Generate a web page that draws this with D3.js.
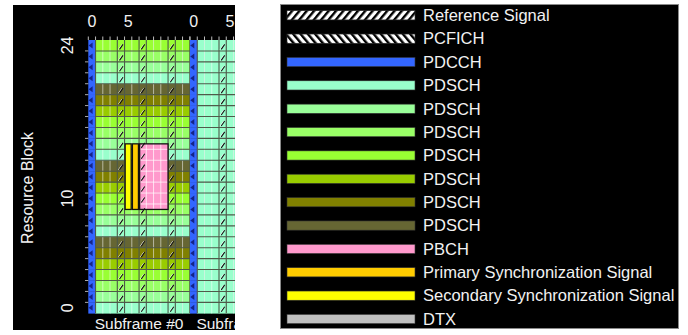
<!DOCTYPE html>
<html><head><meta charset="utf-8">
<script src="https://cdn.jsdelivr.net/npm/d3@7"></script>
<style>
html,body{margin:0;padding:0;background:#fff;}
svg{display:block;}
text{font-family:"Liberation Sans",Arial,sans-serif;fill:#f2f2f2;}
</style>
</head><body><svg id="c" width="688" height="335"></svg>
<script>
// ---------- data ----------
const legendLabels = ["Reference Signal","PCFICH","PDCCH","PDSCH","PDSCH","PDSCH","PDSCH","PDSCH","PDSCH","PDSCH","PBCH","Primary Synchronization Signal","Secondary Synchronization Signal","DTX"];
const legendColors = ["url(#hatchRS)","url(#hatchPCFICH)","#3366ff","#99ffcc","#99ff99","#99ff66","#99ff33","#99cc00","#808000","#666633","#ff99cc","#ffcc00","#ffff00","#c0c0c0"];
const pdschColors = ["#99ffcc","#99ff99","#99ff66","#99ff33","#99cc00","#808000","#666633"];
const pdcchColor = "#3366ff", pbchColor = "#ff99cc", pssColor = "#ffcc00", sssColor = "#ffff00";
// PDSCH allocation (index into pdschColors) per resource block 0..24
const sf0Alloc = [0,1,2,3,4,5,6,0,1,2,3,4,5,6,0,1,2,3,4,5,6,0,1,2,3];
const sf1Alloc = [0,0,0,0,0,0,0,0,0,0,0,0,0,0,0,0,0,0,0,0,0,0,0,0,0];
const allocs = [sf0Alloc, sf1Alloc];
const subframes = ["Subframe #0","Subframe #1"];
const symbols = [0,1,2,3,4,5,6,7,8,9,10,11,12,13];
const resourceBlocks = [0,1,2,3,4,5,6,7,8,9,10,11,12,13,14,15,16,17,18,19,20,21,22,23,24];
const pdcchSymbols = [0];
const rsSymbols = [4,7,11];
const darkBoundaries = [1,4,5,7,8,11,12,14];
const xTickLabels = [0,5];
const yTickLabels = [0,10,24];
const sssSymbol = 5, pssSymbol = 6, pbchSymbols = [7,8,9,10];
const syncRB = [9.5,15.5];

// ---------- scales ----------
const svg = d3.select("#c");
const y = d3.scaleLinear().domain([0,25]).range([313.3,40]);
const sfX = d3.scaleLinear().domain([0,1]).range([88.3,190]);
const symX = d3.scaleLinear().domain([0,14]).range([0,101.5]);
const X = (sf,s) => sfX(sf)+symX(s);

// ---------- defs ----------
const defs = svg.append("defs");
function hatch(id, ang){
  const p = defs.append("pattern").attr("id",id).attr("patternUnits","userSpaceOnUse")
    .attr("width",5.6).attr("height",5.6).attr("patternTransform",`rotate(${ang})`);
  p.append("rect").attr("width",5.6).attr("height",5.6).attr("fill","#fff");
  p.append("rect").attr("width",2.4).attr("height",5.6).attr("fill","#000");
}
hatch("hatchRS",40); hatch("hatchPCFICH",-40);
defs.append("clipPath").attr("id","leftClip").append("rect")
  .attr("x",13).attr("y",5).attr("width",222).attr("height",325);

// ---------- left panel ----------
svg.append("rect").attr("x",13).attr("y",5).attr("width",222).attr("height",325).attr("fill","#000");
const g = svg.append("g").attr("clip-path","url(#leftClip)");

subframes.forEach((name,sf)=>{
  const alloc = allocs[sf];
  resourceBlocks.forEach(rb=>{
    g.selectAll(null).data(symbols).join("rect")
      .attr("x",s=>X(sf,s)).attr("y",y(rb+1))
      .attr("width",symX(1)+0.3).attr("height",y(rb)-y(rb+1)+0.3)
      .attr("fill",s=> pdcchSymbols.includes(s) ? pdcchColor : pdschColors[alloc[rb]]);
  });
  g.selectAll(null).data(symbols.filter(s=>s>0 && !darkBoundaries.includes(s))).join("line")
    .attr("x1",s=>X(sf,s)).attr("x2",s=>X(sf,s)).attr("y1",y(25)).attr("y2",y(0))
    .attr("stroke","rgba(255,255,255,0.55)").attr("stroke-width",1);
  g.selectAll(null).data(resourceBlocks.slice(1)).join("line")
    .attr("x1",X(sf,1)).attr("x2",X(sf,14)).attr("y1",rb=>y(rb)).attr("y2",rb=>y(rb))
    .attr("stroke","#4f5a4a").attr("stroke-width",1.1);
  g.selectAll(null).data(darkBoundaries).join("line")
    .attr("x1",s=>X(sf,s)).attr("x2",s=>X(sf,s)).attr("y1",y(25)).attr("y2",y(0))
    .attr("stroke","#4f5a4a").attr("stroke-width",1.1);
  g.selectAll(null).data(resourceBlocks).join("path")
    .attr("d",rb=>{const x0=X(sf,0)+0.3, c=y(rb+0.5); return `M${x0},${c} L${x0+4},${c-3} L${x0+4},${c+3} Z`;})
    .attr("fill","#14248a");
  g.selectAll(null).data(symbols.concat([14])).join("line")
    .attr("x1",s=>X(sf,s)).attr("x2",s=>X(sf,s)).attr("y1",36.5).attr("y2",40)
    .attr("stroke","#bbb").attr("stroke-width",1);
  g.selectAll(null).data(xTickLabels).join("text")
    .attr("x",s=>X(sf,s+0.5)).attr("y",27).attr("text-anchor","middle")
    .style("font-size","16px").text(d=>d);
  g.append("text").attr("x",X(sf,7)).attr("y",328.5).attr("text-anchor","middle")
    .style("font-size","15.5px").text(name);
});

// PBCH / sync overlay in subframe 0
const yTop = y(syncRB[1]), yBot = y(syncRB[0]);
g.append("rect").attr("x",X(0,pbchSymbols[0])).attr("y",yTop)
  .attr("width",X(0,pbchSymbols[3]+1)-X(0,pbchSymbols[0])).attr("height",yBot-yTop).attr("fill",pbchColor);
g.selectAll(null).data(pbchSymbols.slice(1)).join("line")
  .attr("x1",s=>X(0,s)).attr("x2",s=>X(0,s)).attr("y1",yTop).attr("y2",yBot)
  .attr("stroke","rgba(255,255,255,0.7)");
g.selectAll(null).data(resourceBlocks.filter(rb=>rb>syncRB[0] && rb<syncRB[1])).join("line")
  .attr("x1",X(0,pbchSymbols[0])).attr("x2",X(0,pbchSymbols[3]+1)).attr("y1",rb=>y(rb)).attr("y2",rb=>y(rb))
  .attr("stroke","rgba(255,255,255,0.7)");

// reference signal marks
subframes.forEach((name,sf)=>{
  rsSymbols.forEach(s=>{
    g.selectAll(null).data(resourceBlocks).join("path")
      .attr("d",rb=>{const x0=X(sf,s)+2.2, yb=y(rb)-1.5; return `M${x0-1},${yb} L${x0+2.5},${yb-5}`;})
      .attr("stroke","rgba(255,255,255,0.8)").attr("stroke-width",1);
    g.selectAll(null).data(resourceBlocks).join("path")
      .attr("d",rb=>{const x0=X(sf,s)+2.2, yb=y(rb)-1.5; return `M${x0},${yb} L${x0+3.5},${yb-5}`;})
      .attr("stroke","#111").attr("stroke-width",1.1);
  });
});

// sync signals and outlines
[[sssSymbol,sssColor],[pssSymbol,pssColor]].forEach(([s,c])=>{
  g.append("rect").attr("x",X(0,s)+0.6).attr("y",yTop).attr("width",symX(1)-1.2).attr("height",yBot-yTop)
    .attr("fill",c).attr("stroke","#111").attr("stroke-width",1.3);
});
g.append("rect").attr("x",X(0,pbchSymbols[0])+0.6).attr("y",yTop)
  .attr("width",X(0,pbchSymbols[3]+1)-X(0,pbchSymbols[0])-0.6).attr("height",yBot-yTop)
  .attr("fill","none").attr("stroke","#111").attr("stroke-width",1.3);

// y axis ticks and labels
svg.selectAll(null).data(resourceBlocks.slice(1)).join("line")
  .attr("x1",85).attr("x2",88.3).attr("y1",rb=>y(rb)).attr("y2",rb=>y(rb))
  .attr("stroke","#aaa");
svg.selectAll(null).data(yTickLabels).join("text")
  .attr("transform",d=>`translate(72.5,${y(d+0.5)}) rotate(-90)`)
  .attr("text-anchor","middle").style("font-size","16px").text(d=>d);
svg.append("text").attr("transform",`translate(33,188) rotate(-90)`)
  .attr("text-anchor","middle").style("font-size","16px").text("Resource Block");

// ---------- legend panel ----------
svg.append("rect").attr("x",280.5).attr("y",4.5).attr("width",398).attr("height",324)
  .attr("fill","#000").attr("stroke","#8a8a8a").attr("stroke-width",1);
const ly = d3.scalePoint().domain(legendLabels.map((d,i)=>i)).range([15.3,319]);
const lg = svg.append("g");
lg.selectAll(null).data(legendLabels).join("rect")
  .attr("x",287).attr("y",(d,i)=>ly(i)-4.6).attr("width",128).attr("height",9.2)
  .attr("fill",(d,i)=>legendColors[i]).attr("stroke","#333").attr("stroke-width",0.6);
lg.selectAll(null).data(legendLabels).join("text")
  .attr("x",423).attr("y",(d,i)=>ly(i)+5.8).style("font-size","16.5px").text(d=>d);
</script>
</body></html>
